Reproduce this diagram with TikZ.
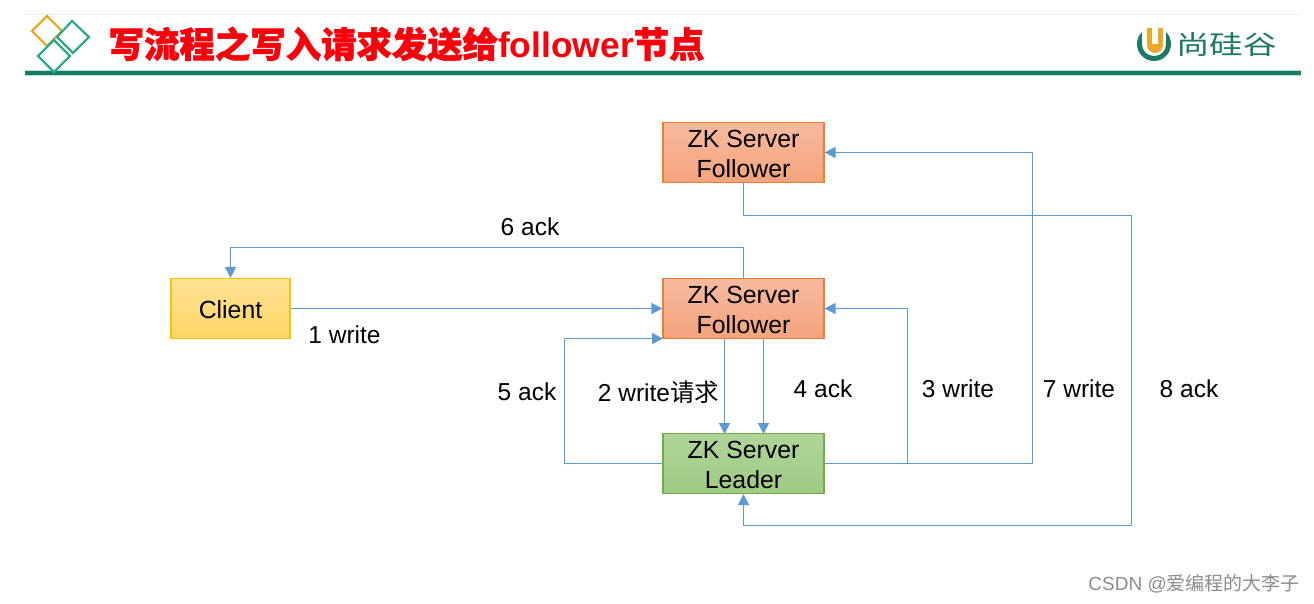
\documentclass[tikz,border=0pt]{standalone}
\usepackage{fontspec}
\setmainfont{Liberation Sans}
\newfontfamily\cjk[BoldFeatures={FakeBold=1.6}]{Noto Sans CJK SC}
\usetikzlibrary{arrows.meta,calc}
\definecolor{arrowblue}{HTML}{5B9BD5}
\definecolor{brandgreen}{HTML}{1B7A64}
\definecolor{brandteal}{HTML}{2FA98C}
\definecolor{brandgold}{HTML}{E9A92B}
\newcommand{\dropline}{\rule{0pt}{20pt}}
\tikzset{
  boxbase/.style={draw,line width=1.2pt,minimum width=161pt,minimum height=60pt,inner sep=0pt,align=center,font=\fontsize{24.8}{29.5}\selectfont,shade,shading angle=0},
  orangebox/.style={boxbase,draw={rgb,255:red,237;green,125;blue,49},bottom color={rgb,255:red,243;green,163;blue,124},top color={rgb,255:red,247;green,186;blue,160}},
  greenbox/.style={boxbase,draw={rgb,255:red,112;green,173;blue,71},bottom color={rgb,255:red,158;green,203;blue,131},top color={rgb,255:red,176;green,212;blue,154}},
  yellowbox/.style={boxbase,minimum width=119pt,draw={rgb,255:red,255;green,192;blue,0},bottom color={rgb,255:red,255;green,214;blue,100},top color={rgb,255:red,255;green,226;blue,150}},
  conn/.style={draw=arrowblue,line width=1.5pt,-{Triangle[length=11pt,width=11pt]}},
  lbl/.style={font=\fontsize{24.5}{29}\selectfont,inner sep=0pt,text=black},
  diamondline/.style={line width=2.2pt,fill=none}
}
\begin{document}
\begin{tikzpicture}[x=1pt,y=-1pt]
\useasboundingbox (0,0) rectangle (1314,603);
\fill[white] (0,0) rectangle (1314,603);
% header
\draw[black!7,line width=0.8pt] (25,14.5) -- (1301,14.5);
\fill[brandteal!35] (25,69.5) rectangle (1301,75.5);
\fill[brandgreen] (25,70.5) rectangle (1301,74.5);
\draw[brandgold,diamondline] (47,16) -- (62,31) -- (47,46) -- (32,31) -- cycle;
\draw[brandteal,diamondline] (72,21) -- (89,37) -- (73,53) -- (57,37) -- cycle;
\draw[brandteal,diamondline] (54,40) -- (70,56) -- (54,72) -- (38,56) -- cycle;
\node[anchor=west,inner sep=0pt,text={rgb,255:red,250;green,0;blue,10},font=\fontsize{35.4}{40}\selectfont\bfseries] (title) at (108.5,44) {{\cjk\bfseries 写流程之写入请求发送给}follower{\cjk\bfseries 节点}};
% logo
\fill[brandgreen] (1154,44) circle[radius=17];
\fill[white] (1142,26) rectangle (1166,44);
\fill[white] (1154,44) circle[radius=12];
\fill[brandgold] (1147,28) rectangle (1163,45);
\fill[brandgold] (1155,45) circle[radius=8];
\fill[white] (1152,28) rectangle (1158,44);
\node[anchor=west,inner sep=0pt,text=brandgreen,yscale=.78,font=\fontsize{33.5}{38}\selectfont] (brand) at (1176,45) {\cjk 尚硅谷};
% boxes
\node[orangebox] (ftop) at (743.5,152.5) {\dropline ZK Server\\Follower};
\node[orangebox] (fmid) at (743.5,308.5) {\dropline ZK Server\\Follower};
\node[greenbox] (lead) at (743.5,463.5) {\dropline ZK Server\\Leader};
\node[yellowbox] (client) at (230.5,308.5) {\dropline Client};
% named bends
\coordinate (w5a) at (564.5,463.5);
\coordinate (w5b) at (564.5,338.5);
\coordinate (in5) at (663,338.5);
\coordinate (w3) at (907.5,463.5);
\coordinate (w3b) at (907.5,308.5);
\coordinate (w7) at (1032.5,463.5);
\coordinate (w7b) at (1032.5,152.5);
\coordinate (w8a) at (743.5,215.5);
\coordinate (w8b) at (1131.5,215.5);
\coordinate (w8c) at (1131.5,525.5);
\coordinate (w8d) at (743.5,525.5);
\coordinate (w6a) at (743.5,247.5);
\coordinate (w6b) at (230.5,247.5);
\coordinate (d2a) at (724.5,339);
\coordinate (d2b) at (724.5,434);
\coordinate (d4a) at (763.5,339);
\coordinate (d4b) at (763.5,434);
% connectors
\draw[conn] (fmid.north) -- (w6a) -- (w6b) -- (client.north);
\draw[conn] (client.east) -- (fmid.west);
\draw[conn] (lead.west) -- (w5a) -- (w5b) -- (in5);
\draw[conn] (d2a) -- (d2b);
\draw[conn] (d4a) -- (d4b);
\draw[conn] (lead.east) -- (w3) -- (w3b) -- (fmid.east);
\draw[conn] (lead.east) -- (w7) -- (w7b) -- (ftop.east);
\draw[conn] (ftop.south) -- (w8a) -- (w8b) -- (w8c) -- (w8d) -- (lead.south);
% labels
\node[lbl] (l6) at (530,227) {6 ack};
\node[lbl] (l1) at (344.5,335) {1 write};
\node[lbl] (l5) at (527,392) {5 ack};
\node[lbl] (l2) at (658.5,392) {2 write{\cjk 请求}};
\node[lbl] (l4) at (823,389) {4 ack};
\node[lbl] (l3) at (958,389) {3 write};
\node[lbl] (l7) at (1079,389) {7 write};
\node[lbl] (l8) at (1189,389) {8 ack};
\node[anchor=east,inner sep=0pt,text=black!45,font=\fontsize{19}{22}\selectfont] (wm) at (1300,584) {CSDN @{\cjk 爱编程的大李子}};
\end{tikzpicture}
\end{document}
